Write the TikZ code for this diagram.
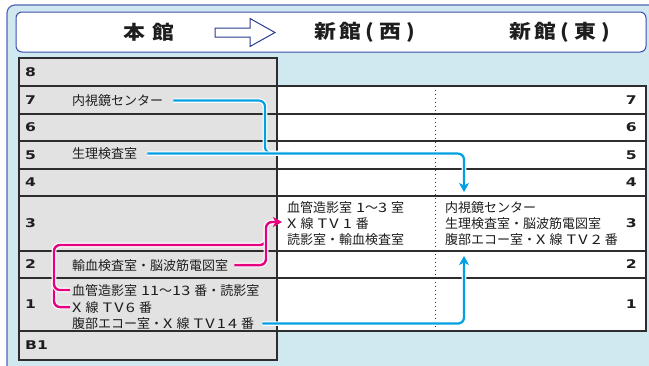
\documentclass[tikz,border=0pt]{standalone}
\usepackage{fontspec}
\setmainfont{Noto Sans CJK JP}
\newfontfamily\headfont{Noto Sans CJK JP}[FakeStretch=1.15]
\newfontfamily\latfont{Noto Sans CJK JP}[FakeStretch=1.25]
\newfontfamily\numfont{DejaVu Sans}[FakeStretch=1.3]
\usetikzlibrary{arrows.meta}
\newcommand\gap{\hspace{4pt}}
\newcommand\lw[1]{{\latfont #1}}
\newcommand\lk{\kern2.2pt}
\definecolor{bgblue}{RGB}{208,232,239}
\definecolor{frameblue}{RGB}{85,102,184}
\definecolor{headblue}{RGB}{61,77,170}
\definecolor{navy}{RGB}{43,57,144}
\definecolor{cellgray}{RGB}{226,226,226}
\definecolor{gridc}{RGB}{45,45,45}
\definecolor{txtc}{RGB}{30,30,30}
\definecolor{cblue}{RGB}{0,160,226}
\definecolor{cmag}{RGB}{228,0,127}
\tikzset{
  txt/.style={anchor=base west, inner sep=0pt, font=\fontsize{13}{16}\selectfont, text=txtc},
  num/.style={inner sep=0pt, font=\numfont\bfseries\fontsize{12}{14}\selectfont, text=txtc},
  head/.style={inner sep=0pt, font=\headfont\bfseries\fontsize{19}{22}\selectfont, text=txtc},
  grid/.style={draw=gridc, line width=1.3pt},
  bline/.style={draw=cblue, line width=2.2pt, rounded corners=6pt, preaction={draw=white, line width=4.6pt, -}},
  mline/.style={draw=cmag, line width=2.4pt, rounded corners=6pt, preaction={draw=white, line width=4.8pt, -}},
  tip/.style={-{Stealth[length=9pt,width=10pt,inset=2.5pt]}},
}
\begin{document}
\begin{tikzpicture}[x=1pt,y=-1pt]
\useasboundingbox (0,0) rectangle (649,365);
\clip (0,0) rectangle (649,365);
% outer frame
\draw[fill=bgblue, draw=frameblue, line width=1.2pt, rounded corners=8pt] (7,5) rectangle (680,400);
% header
\node[draw=headblue, fill=white, line width=1pt, rounded corners=6pt, minimum width=630pt, minimum height=40pt, inner sep=0pt] (hdr) at (331,32) {};
\node[head] (hHon) at (149,32.5) {本\hspace{8pt}館};
\node[head] (hWest) at (365,32.5) {新\hspace{3pt}館\hspace{4pt}(\hspace{5pt}西\hspace{5pt})};
\node[head] (hEast) at (560,32.5) {新\hspace{3pt}館\hspace{4pt}(\hspace{5pt}東\hspace{5pt})};
\draw[draw=navy, fill=white, line width=1pt, line join=miter] (215,28) -- (250,28) -- (250,18.5) -- (275,32.5) -- (250,46.5) -- (250,37) -- (215,37) -- cycle;
% tables
\fill[cellgray] (19,58) rectangle (277,360);
\fill[white] (277,86) rectangle (646,331);
\draw[gridc, line width=1pt, dash pattern=on 1.2pt off 2.8pt] (435,86) -- (435,333);
\foreach \yy in {114,141,169,196,251,278} \draw[grid] (19,\yy) -- (646,\yy);
\foreach \yy in {86,331} \draw[grid] (19,\yy) -- (646,\yy);
\draw[grid] (19,58) rectangle (277,360);
\draw[grid] (277,86) -- (646,86) -- (646,331) -- (277,331);
% floor numbers, left
\node[num, anchor=west] (L8) at (25,72) {8};
\node[num, anchor=west] (L7) at (25,100) {7};
\node[num, anchor=west] (L6) at (25,127.5) {6};
\node[num, anchor=west] (L5) at (25,155) {5};
\node[num, anchor=west] (L4) at (25,182.5) {4};
\node[num, anchor=west] (L3) at (25,223.5) {3};
\node[num, anchor=west] (L2) at (25,264.5) {2};
\node[num, anchor=west] (L1) at (25,304.5) {1};
\node[num, anchor=west] (LB1) at (25,345.5) {B1};
% floor numbers, right
\node[num, anchor=east] (R7) at (637,100) {7};
\node[num, anchor=east] (R6) at (637,127.5) {6};
\node[num, anchor=east] (R5) at (637,155) {5};
\node[num, anchor=east] (R4) at (637,182.5) {4};
\node[num, anchor=east] (R3) at (637,223.5) {3};
\node[num, anchor=east] (R2) at (637,264.5) {2};
\node[num, anchor=east] (R1) at (637,304.5) {1};
% texts
\node[txt] (t7) at (72,105.5) {内視鏡センター};
\node[txt] (t5) at (72,158.5) {生理検査室};
\node[txt] (t2) at (72,270) {輸血検査室・脳波筋電図室};
\node[txt] (r1a) at (72,295) {血管造影室\gap\lw{11}～\lw{13}\gap 番・読影室};
\node[txt] (r1b) at (72,312) {\lw{X}\gap 線\gap\lw{T\lk V\lk 6}\gap 番};
\node[txt] (r1c) at (72,328.5) {腹部エコー室・\lw{X}\gap 線\gap\lw{T\lk V\lk 1\lk 4}\gap 番};
\node[txt] (w1) at (287,212.5) {血管造影室\gap\lw{1}～\lw{3}\gap 室};
\node[txt] (w2) at (287,228) {\lw{X}\gap 線\gap\lw{T\lk V}\gap\lw{1}\gap 番};
\node[txt] (w3) at (287,244) {読影室・輸血検査室};
\node[txt] (e1) at (445,212.5) {内視鏡センター};
\node[txt] (e2) at (445,228) {生理検査室・脳波筋電図室};
\node[txt] (e3) at (445,244) {腹部エコー室・\lw{X}\gap 線\gap\lw{T\lk V}\gap\lw{2}\gap 番};
% connector coordinates
\coordinate (jBlue) at (265,153);
\coordinate (jBlue2) at (290,153);
\coordinate (tEast4) at (464,192);
\coordinate (tEast2) at (464,256);
\coordinate (mV) at (266,222);
\coordinate (mTip) at (282,222);
\coordinate (mBr) at (54,245);
\coordinate (mJup) at (266,232);
\coordinate (mBr2) at (54,280);
% blue connectors
\draw[bline] ([xshift=10pt]t7.east) -| (jBlue) -- (jBlue2);
\draw[bline,tip] ([xshift=10pt]t5.east) -| (tEast4);
\draw[bline,tip] ([xshift=8pt]r1c.east) -| (tEast2);
% magenta connectors
\draw[mline] ([xshift=-2pt]r1b.west) -| (mBr) -| (mJup);
\draw[mline] ([xshift=-2pt]r1a.west) -| (mBr2);
\draw[mline,tip] ([xshift=6pt]t2.east) -| (mV) -- (mTip);
\end{tikzpicture}
\end{document}
